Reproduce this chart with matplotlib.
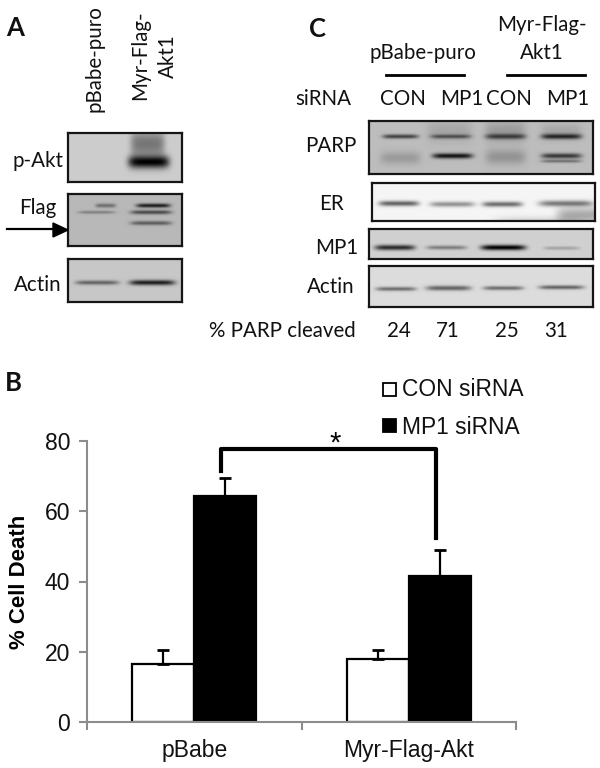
import matplotlib
matplotlib.use("Agg")
import matplotlib.pyplot as plt
import numpy as np

# bar chart data (panel B)
groups = ["pBabe", "Myr-Flag-Akt"]
con_sirna = [16.4, 18.0]
mp1_sirna = [64.3, 41.5]
con_err = [4.0, 2.4]
mp1_err = [5.3, 7.4]
yticks = [0, 20, 40, 60, 80]

# panel C labels
c_lanes = ["CON", "MP1", "CON", "MP1"]
parp_cleaved = [24, 71, 25, 31]

# blot bands: (x centre, y centre, half width, thickness, darkness), all 0-1 in the panel
pakt_bands = [(0.71, 0.59, 0.18, 0.13, 1.0), (0.70, 0.22, 0.15, 0.28, 0.42)]
flag_bands = [(0.33, 0.22, 0.09, 0.04, 0.4), (0.25, 0.35, 0.16, 0.03, 0.3),
              (0.75, 0.22, 0.15, 0.04, 0.85), (0.73, 0.35, 0.18, 0.04, 0.6),
              (0.73, 0.56, 0.18, 0.04, 0.5)]
actin_a_bands = [(0.255, 0.56, 0.19, 0.05, 0.5), (0.74, 0.56, 0.20, 0.06, 0.85)]
parp_bands = [(0.14, 0.29, 0.08, 0.04, 0.65), (0.365, 0.29, 0.09, 0.04, 0.55),
              (0.61, 0.29, 0.09, 0.05, 0.65), (0.86, 0.29, 0.09, 0.05, 0.8),
              (0.373, 0.66, 0.09, 0.05, 0.9), (0.14, 0.70, 0.09, 0.12, 0.18),
              (0.61, 0.68, 0.09, 0.14, 0.22), (0.86, 0.66, 0.09, 0.05, 0.7),
              (0.86, 0.76, 0.09, 0.03, 0.4), (0.36, 0.2, 0.1, 0.2, 0.12),
              (0.61, 0.2, 0.09, 0.2, 0.18), (0.86, 0.2, 0.09, 0.15, 0.12)]
er_bands = [(0.12, 0.54, 0.09, 0.07, 0.6), (0.36, 0.56, 0.10, 0.07, 0.4),
            (0.585, 0.56, 0.09, 0.07, 0.55), (0.87, 0.54, 0.12, 0.08, 0.5),
            (0.95, 0.85, 0.12, 0.22, 0.3), (0.75, 1.0, 0.2, 0.12, 0.12)]
mp1_bands = [(0.115, 0.62, 0.09, 0.09, 0.8), (0.346, 0.62, 0.09, 0.07, 0.4),
             (0.60, 0.62, 0.10, 0.09, 1.0), (0.86, 0.64, 0.08, 0.06, 0.22)]
actin_c_bands = [(0.12, 0.56, 0.09, 0.05, 0.5), (0.355, 0.54, 0.10, 0.06, 0.55),
                 (0.60, 0.54, 0.09, 0.05, 0.5), (0.86, 0.52, 0.10, 0.05, 0.55)]

W, H = 600, 768
BLOT_FONT = "Lato"
CHART_FONT = "Liberation Sans"

fig = plt.figure(figsize=(W / 100, H / 100), dpi=100)


def px_axes(x0, y0, x1, y1):
    # axes from pixel box, y measured from the top
    return fig.add_axes([x0 / W, 1 - y1 / H, (x1 - x0) / W, (y1 - y0) / H])


def blot(box, bands, bg):
    ax = px_axes(*box)
    w, h = box[2] - box[0], box[3] - box[1]
    xx, yy = np.meshgrid(np.linspace(0, 1, w * 2), np.linspace(0, 1, h * 2))
    img = np.full(xx.shape, 1.0)
    for cx, cy, hw, th, dark in bands:
        prof_x = np.exp(-(np.abs(xx - cx) / hw) ** 6)
        prof_y = np.exp(-((yy - cy) / th) ** 2)
        img *= 1 - dark * prof_x * prof_y
    ax.imshow(img * bg, cmap="gray", vmin=0, vmax=1, aspect="auto", extent=[0, 1, 1, 0])
    ax.set_xticks([])
    ax.set_yticks([])
    for s in ax.spines.values():
        s.set_linewidth(1.6)
        s.set_color("#151515")
    return ax


def label(x, y, s, size=14.8, **kw):
    kw.setdefault("family", BLOT_FONT)
    kw.setdefault("ha", "center")
    kw.setdefault("va", "center")
    fig.text(x / W, 1 - y / H, s, fontsize=size, color="#111111", **kw)


# panel A
blot((68, 133, 182, 182), pakt_bands, 0.80)
blot((68, 194, 182, 246), flag_bands, 0.72)
blot((68, 259, 182, 302), actin_a_bands, 0.78)

label(15, 28, "A", size=18.5, fontweight="bold")
label(95, 112, "pBabe-puro", rotation=90, va="bottom")
label(140, 100, "Myr-Flag-", rotation=90, va="bottom")
label(168, 78, "Akt1", rotation=90, va="bottom")
label(38, 161, "p-Akt")
label(38, 208, "Flag")
label(38, 285, "Actin")
fig.add_artist(plt.Line2D([7 / W, 56 / W], [1 - 229 / H] * 2, color="black", lw=1.6))
fig.add_artist(plt.Polygon([[53 / W, 1 - 223 / H], [68 / W, 1 - 230 / H], [53 / W, 1 - 237 / H]],
                           closed=True, color="black", transform=fig.transFigure))

# panel C
blot((369, 121, 593, 174), parp_bands, 0.74)
blot((372, 183, 595, 221), er_bands, 0.96)
blot((369, 229, 593, 259), mp1_bands, 0.82)
blot((369, 266, 593, 307), actin_c_bands, 0.86)

label(317, 29, "C", size=18.5, fontweight="bold")
label(423, 53, "pBabe-puro")
label(542, 25, "Myr-Flag-")
label(542, 53, "Akt1")
fig.add_artist(plt.Line2D([386 / W, 464 / W], [1 - 75 / H] * 2, color="black", lw=2))
fig.add_artist(plt.Line2D([507 / W, 585 / W], [1 - 75 / H] * 2, color="black", lw=2))
label(323, 99, "siRNA")
for x, s in zip([403, 462, 509, 568], c_lanes):
    label(x, 99, s)
for x, s in zip([399, 448, 507, 556], parp_cleaved):
    label(x, 331, str(s))
label(331, 146, "PARP")
label(331, 204, "ER")
label(337, 248, "MP1")
label(331, 287, "Actin")
label(282.5, 331, "% PARP cleaved")

# panel B
ax = px_axes(87, 441, 516, 722)
bar_w = 0.29
x = np.arange(len(groups)) + 0.5
ax.bar(x - bar_w / 2, con_sirna, bar_w, color="white", edgecolor="black", linewidth=1.6,
       yerr=[np.zeros(2), con_err], ecolor="black",
       error_kw=dict(capsize=4, capthick=2, elinewidth=1.6), label="CON siRNA")
ax.bar(x + bar_w / 2, mp1_sirna, bar_w, color="black", edgecolor="black", linewidth=1.6,
       yerr=[np.zeros(2), mp1_err], ecolor="black",
       error_kw=dict(capsize=4, capthick=2, elinewidth=1.6), label="MP1 siRNA")
ax.set_xlim(0, 2)
ax.set_ylim(0, 80)
ax.set_yticks(yticks)
ax.set_xticks([0, 1, 2])
ax.set_xticklabels([])
ax.tick_params(axis="both", color="#8c8c8c", width=1.5, length=6, direction="out")
ax.tick_params(axis="y", labelsize=16.5, labelcolor="#111111", pad=6)
for lbl in ax.get_yticklabels():
    lbl.set_family(CHART_FONT)
for s in ["top", "right"]:
    ax.spines[s].set_visible(False)
for s in ["left", "bottom"]:
    ax.spines[s].set_color("#8c8c8c")
    ax.spines[s].set_linewidth(1.5)
for xc, g in zip(x, groups):
    ax.text(xc, -8.0, g, ha="center", va="center", fontsize=16.5, family=CHART_FONT, color="#111111")
ax.set_ylabel("% Cell Death", fontsize=16, fontweight="bold", family=CHART_FONT)
ax.yaxis.set_label_coords(-0.133, 0.5)

# significance bracket
ax.plot([0.626, 0.626, 1.627, 1.627], [71.4, 77.7, 77.7, 52.4], color="black", lw=3, clip_on=False,
        solid_joinstyle="round")
ax.text(1.159, 79.2, "*", ha="center", va="center", fontsize=21, family=CHART_FONT, color="black")

# legend by hand so it sits above the plot
fig.add_artist(plt.Rectangle((383 / W, 1 - 396 / H), 13 / W, 13 / H, facecolor="white",
                             edgecolor="black", lw=1.3, transform=fig.transFigure))
fig.add_artist(plt.Rectangle((383 / W, 1 - 432 / H), 13 / W, 13 / H, facecolor="black",
                             edgecolor="black", lw=1.3, transform=fig.transFigure))
label(402, 389, "CON siRNA", size=16.4, family=CHART_FONT, ha="left")
label(402, 427, "MP1 siRNA", size=16.4, family=CHART_FONT, ha="left")
label(13, 383, "B", size=18.5, fontweight="bold")

fig.savefig("out.png", dpi=100)
